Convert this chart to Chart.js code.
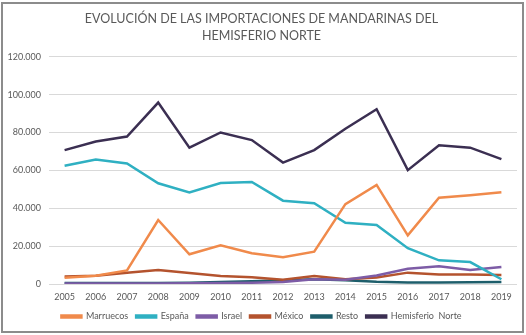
<!DOCTYPE html>
<html>
<head>
<meta charset="utf-8">
<script src="https://cdn.jsdelivr.net/npm/chart.js@4"></script>
<style>
  html, body { margin: 0; padding: 0; background: #fff; }
  #frame {
    position: absolute; left: 1px; top: 2px;
    width: 519px; height: 327px;
    border: 2px solid #8c8c8c;
  }
  #wrap { position: absolute; left: 0; top: 0; width: 526px; height: 335px; }
</style>
</head>
<body>
<div id="frame"></div>
<div id="wrap"><canvas id="myChart" width="526" height="335"></canvas></div>
<script>
const years = ['2005', '2006', '2007', '2008', '2009', '2010', '2011', '2012', '2013', '2014', '2015', '2016', '2017', '2018', '2019']

const marruecos = [3300, 4400, 7200, 33800, 15700, 20400, 16200, 14100, 17100, 42200, 52300, 25700, 45600, 46900, 48500]
const espana = [62400, 65700, 63600, 53200, 48300, 53300, 53900, 44000, 42700, 32300, 31200, 18900, 12500, 11600, 2500]
const israel = [200, 200, 200, 300, 400, 500, 700, 1000, 2500, 2300, 4500, 8100, 9400, 7400, 9000]
const mexico = [3900, 4300, 6000, 7400, 5800, 4200, 3500, 2200, 4200, 2500, 3400, 6000, 5000, 5000, 4800]
const resto = [500, 500, 500, 500, 600, 1000, 1500, 2000, 2500, 2000, 1200, 800, 800, 900, 1000]
const hemisferio = [70700, 75200, 77900, 95800, 72000, 80000, 76000, 64100, 70700, 82000, 92300, 60100, 73300, 72000, 65900]

const yTicks = [0, 20000, 40000, 60000, 80000, 100000, 120000]

const grey = '#595959'
const font = "Lato, 'Open Sans', sans-serif"

const serie = (label, data, color) => ({
    label,
    data,
    borderColor: color,
    backgroundColor: color,
    borderWidth: 2.5,
    pointRadius: 0,
    tension: 0,
    fill: false
})

const datasets = [
    serie('Marruecos', marruecos, '#f08a4b'),
    serie('España', espana, '#2fb0c2'),
    serie('Israel', israel, '#7d5ca6'),
    serie('México', mexico, '#b4532e'),
    serie('Resto', resto, '#1e5e6b'),
    serie('Hemisferio  Norte', hemisferio, '#3b2f52')
]

const fmt = (v) => v.toLocaleString('de-DE')

const config = {
    type: 'line',
    data: { labels: years, datasets },
    options: {
        responsive: false,
        animation: false,
        layout: { padding: { left: 6, right: 9, top: 9, bottom: 4 } },
        plugins: {
            title: {
                display: true,
                text: ['EVOLUCIÓN DE LAS IMPORTACIONES DE MANDARINAS DEL', 'HEMISFERIO NORTE'],
                color: grey,
                font: { family: font, size: 12.5, weight: 'normal', lineHeight: 1.35 },
                padding: { top: 2, bottom: 12 }
            },
            legend: {
                position: 'bottom',
                labels: {
                    color: grey,
                    font: { family: font, size: 9 },
                    boxWidth: 20,
                    boxHeight: 2,
                    padding: 8
                }
            },
            tooltip: { enabled: false }
        },
        scales: {
            x: {
                offset: true,
                afterFit: (axis) => { axis.height = 20 },
                grid: { display: false, drawTicks: false },
                border: { display: false },
                ticks: { color: grey, font: { family: font, size: 9 }, maxRotation: 0, padding: 8 }
            },
            y: {
                min: 0,
                max: 120000,
                afterBuildTicks: (axis) => { axis.ticks = yTicks.map(v => ({ value: v })) },
                afterFit: (axis) => { axis.width = 43 },
                grid: { color: '#d9d9d9', lineWidth: 1, drawTicks: false },
                border: { display: false },
                ticks: { color: grey, font: { family: font, size: 9 }, padding: 8, callback: (v) => fmt(v) }
            }
        }
    }
}

const myChart = document.getElementById('myChart')
new Chart(myChart, config)
</script>
</body>
</html>
